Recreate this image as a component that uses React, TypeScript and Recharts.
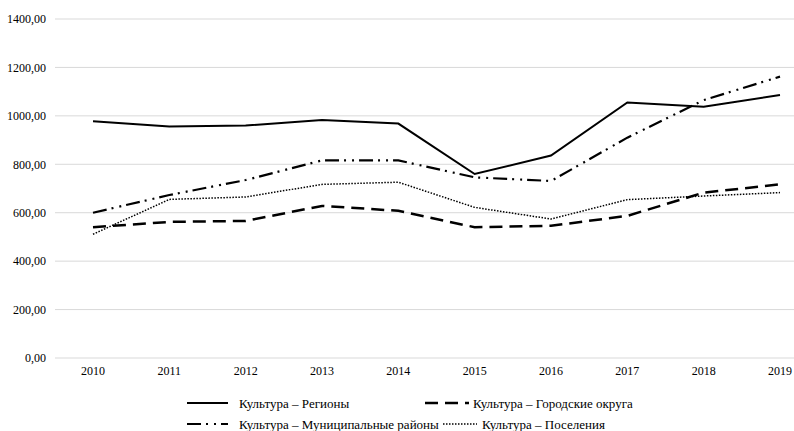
import React from "react";
import { LineChart, Line, XAxis, YAxis, CartesianGrid } from "recharts";

const years = ["2010", "2011", "2012", "2013", "2014", "2015", "2016", "2017", "2018", "2019"];
const regions = [978, 956, 960, 983, 968, 760, 836, 1055, 1038, 1086];
const cityDistricts = [540, 562, 566, 628, 608, 540, 546, 587, 683, 717];
const municipalDistricts = [600, 673, 735, 816, 816, 746, 731, 910, 1065, 1162];
const settlements = [511, 655, 665, 717, 726, 622, 574, 654, 669, 683];
const yTicks = [0, 200, 400, 600, 800, 1000, 1200, 1400];

const seriesNames = {
  regions: "Культура – Регионы",
  city: "Культура – Городские округа",
  municipal: "Культура – Муниципальные районы",
  settlements: "Культура – Поселения",
};

const data = years.map((y, i) => ({
  year: y,
  regions: regions[i],
  city: cityDistricts[i],
  municipal: municipalDistricts[i],
  settlements: settlements[i],
}));

const styles = {
  regions: { dash: undefined as string | undefined, width: 2 },
  city: { dash: "13 7", width: 2.5 },
  municipal: { dash: "14 5 2 6 2 5", width: 2.2 },
  settlements: { dash: "1.5 1.5", width: 1.5 },
};

const font = "Liberation Serif, Times New Roman, DejaVu Serif, serif";

const legendItems = [
  { key: "regions", x1: 187, x2: 228, tx: 239, y: 403 },
  { key: "city", x1: 425, x2: 469, tx: 473, y: 403 },
  { key: "municipal", x1: 187, x2: 228, tx: 239, y: 424 },
  { key: "settlements", x1: 443, x2: 477, tx: 482, y: 424 },
] as const;

const fmt = (v: number) => v.toFixed(2).replace(".", ",");

export default function App() {
  return (
    <div
      style={{
        position: "absolute",
        left: 0,
        top: 0,
        width: 794,
        height: 431,
        overflow: "hidden",
        background: "#fff",
        fontFamily: font,
      }}
    >
      <LineChart
        width={830}
        height={431}
        data={data}
        margin={{ top: 19, right: 12, bottom: 53, left: 0 }}
        style={{ fontFamily: font }}
      >
        <CartesianGrid vertical={false} stroke="#d9d9d9" strokeWidth={1} />
        <XAxis
          dataKey="year"
          axisLine={false}
          tickLine={false}
          tickSize={6}
          tickMargin={2}
          height={20}
          interval={0}
          padding={{ left: 38, right: 38 }}
          tick={{ fill: "#000", fontSize: 12, fontFamily: font }}
        />
        <YAxis
          domain={[0, 1400]}
          ticks={yTicks}
          axisLine={false}
          tickLine={false}
          tickSize={7}
          tickMargin={2}
          width={55}
          tickFormatter={fmt}
          tick={{ fill: "#000", fontSize: 12, fontFamily: font }}
        />
        {(["regions", "city", "municipal", "settlements"] as const).map((k) => (
          <Line
            key={k}
            type="linear"
            dataKey={k}
            name={seriesNames[k]}
            stroke="#000"
            strokeWidth={styles[k].width}
            strokeDasharray={styles[k].dash}
            dot={false}
            activeDot={false}
            isAnimationActive={false}
          />
        ))}
      </LineChart>
      <svg
        width={794}
        height={431}
        style={{ position: "absolute", left: 0, top: 0, pointerEvents: "none" }}
      >
        {legendItems.map((it) => (
          <g key={it.key}>
            <line
              x1={it.x1}
              x2={it.x2}
              y1={it.y}
              y2={it.y}
              stroke="#000"
              strokeWidth={styles[it.key].width}
              strokeDasharray={styles[it.key].dash}
            />
            <text
              x={it.tx}
              y={it.y}
              dy="0.35em"
              fontSize={13}
              fontFamily={font}
              fill="#000"
            >
              {seriesNames[it.key]}
            </text>
          </g>
        ))}
      </svg>
    </div>
  );
}
